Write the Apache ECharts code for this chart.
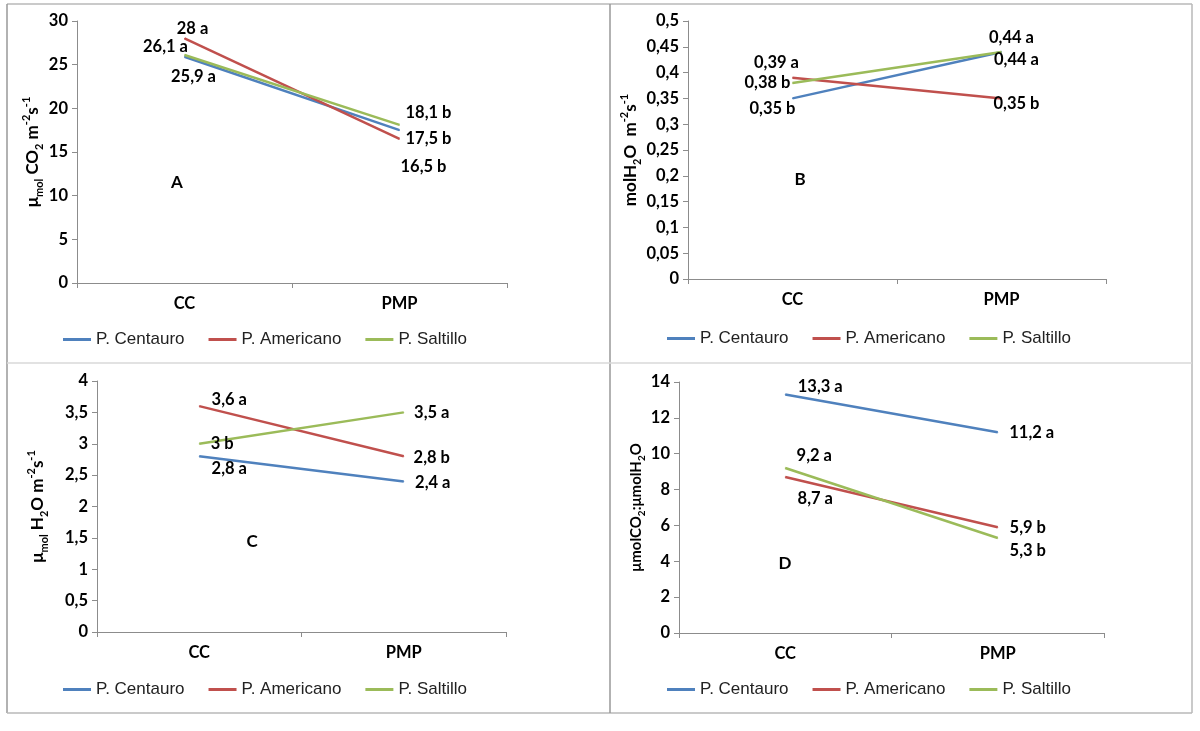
<!DOCTYPE html>
<html>
<head>
<meta charset="utf-8">
<script src="https://cdn.jsdelivr.net/npm/echarts@6/dist/echarts.min.js"></script>
<style>html,body{margin:0;padding:0;background:#fff;}#c{width:1200px;height:731px;}</style>
</head>
<body>
<div id="c"></div>
<script>
// ---- data ----
const categories = ['CC', 'PMP'];
const seriesNames = ['P. Centauro', 'P. Americano', 'P. Saltillo'];
const panelLetters = ['A', 'B', 'C', 'D'];

// Panel A: photosynthesis (µmol CO2 m-2 s-1)
const aCentauro = [25.9, 17.5];
const aAmericano = [28, 16.5];
const aSaltillo = [26.1, 18.1];
const aCentauroSig = ['a', 'b'];
const aAmericanoSig = ['a', 'b'];
const aSaltilloSig = ['a', 'b'];

// Panel B: conductance (mol H2O m-2 s-1)
const bCentauro = [0.35, 0.44];
const bAmericano = [0.39, 0.35];
const bSaltillo = [0.38, 0.44];
const bCentauroSig = ['b', 'a'];
const bAmericanoSig = ['a', 'b'];
const bSaltilloSig = ['b', 'a'];

// Panel C: transpiration (µmol H2O m-2 s-1)
const cCentauro = [2.8, 2.4];
const cAmericano = [3.6, 2.8];
const cSaltillo = [3, 3.5];
const cCentauroSig = ['a', 'a'];
const cAmericanoSig = ['a', 'b'];
const cSaltilloSig = ['b', 'a'];

// Panel D: water use efficiency (µmol CO2 : µmol H2O)
const dCentauro = [13.3, 11.2];
const dAmericano = [8.7, 5.9];
const dSaltillo = [9.2, 5.3];
const dCentauroSig = ['a', 'a'];
const dAmericanoSig = ['a', 'b'];
const dSaltilloSig = ['a', 'b'];

// y-axis scales
const yMin = [0, 0, 0, 0];
const yMax = [30, 0.5, 4, 14];
const yStep = [5, 0.05, 0.5, 2];

// ---- layout / style ----
const colors = ['#4F81BD', '#C0504D', '#9BBB59'];
const grids = [
  {left: 77, top: 21, width: 430, height: 262},
  {left: 688, top: 21, width: 418, height: 258},
  {left: 97, top: 381, width: 409, height: 251},
  {left: 679, top: 382, width: 425, height: 251}
];
const nameGaps = [30, 43, 47, 30];
const yNames = [
  '{m|μ}{s|mol}{m| CO}{s|2}{m| m}{p|-2}{m|s}{p|-1}',
  '{m|molH}{s|2}{m|O  m}{p|-2}{m|s}{p|-1}',
  '{m|μ}{s|mol}{m| H}{s|2}{m|O m}{p|-2}{m|s}{p|-1}',
  '{d|μmolCO}{t|2}{d|:μmolH}{t|2}{d|O}'
];
const legendPos = [[63, 331], [667, 330], [63, 681], [667, 681]];
const letterPos = [[177, 183], [800, 180], [252, 542], [785, 564]];
// label offsets [panel][series][category]
const labelOffsets = [
  [[[9, 20], [29, 9]], [[8, -10], [24, 28]], [[-19, -8], [29, -12]]],
  [[[-20, 10], [15, 8]], [[-16, -15], [15, 5]], [[-25, 0], [10, -14]]],
  [[[30, 12], [29, 1]], [[30, -6], [28, 1]], [[23, 0], [28, 0]]],
  [[[35, -8], [34, 0]], [[30, 22], [30, 0]], [[29, -12], [30, 13]]]
];

const panels = [
  [[aCentauro, aCentauroSig], [aAmericano, aAmericanoSig], [aSaltillo, aSaltilloSig]],
  [[bCentauro, bCentauroSig], [bAmericano, bAmericanoSig], [bSaltillo, bSaltilloSig]],
  [[cCentauro, cCentauroSig], [cAmericano, cAmericanoSig], [cSaltillo, cSaltilloSig]],
  [[dCentauro, dCentauroSig], [dAmericano, dAmericanoSig], [dSaltillo, dSaltilloSig]]
];

const fmt = v => String(parseFloat(Number(v).toFixed(2))).replace('.', ',');
const FONT = 'Lato';
const axisColor = '#8c8c8c';

const xAxis = [], yAxis = [], series = [], legend = [];
grids.forEach((g, p) => {
  xAxis.push({
    type: 'category', gridIndex: p, data: categories, boundaryGap: true,
    axisLine: {lineStyle: {color: axisColor, width: 1}},
    axisTick: {show: true, length: 5, lineStyle: {color: axisColor}},
    axisLabel: {color: '#000', fontFamily: FONT, fontWeight: 'bold', fontSize: 16.5, margin: 12},
    splitLine: {show: false}
  });
  yAxis.push({
    type: 'value', gridIndex: p, min: yMin[p], max: yMax[p], interval: yStep[p],
    axisLine: {show: true, lineStyle: {color: axisColor, width: 1}},
    axisTick: {show: true, length: 5, lineStyle: {color: axisColor}},
    axisLabel: {color: '#000', fontFamily: FONT, fontWeight: 'bold', fontSize: 16.5, margin: 9, formatter: fmt},
    splitLine: {show: false},
    name: yNames[p], nameLocation: 'middle', nameGap: nameGaps[p], nameRotate: 90,
    nameTextStyle: {
      color: '#000',
      rich: {
        m: {fontFamily: FONT, fontWeight: 'bold', fontSize: 17, lineHeight: 24},
        s: {fontFamily: FONT, fontWeight: 'bold', fontSize: 11, lineHeight: 12, verticalAlign: 'bottom'},
        p: {fontFamily: FONT, fontWeight: 'bold', fontSize: 11, lineHeight: 13, verticalAlign: 'top'},
        d: {fontFamily: FONT, fontWeight: 'bold', fontSize: 15, lineHeight: 22},
        t: {fontFamily: FONT, fontWeight: 'bold', fontSize: 10, lineHeight: 11, verticalAlign: 'bottom'}
      }
    }
  });
  panels[p].forEach((pair, s) => {
    const vals = pair[0], sig = pair[1];
    series.push({
      type: 'line', name: seriesNames[s], xAxisIndex: p, yAxisIndex: p,
      symbol: 'circle', symbolSize: 1, showSymbol: true,
      lineStyle: {width: 2.5, color: colors[s]},
      itemStyle: {color: colors[s]},
      label: {
        show: true, position: 'inside', align: 'center', verticalAlign: 'middle',
        color: '#000', fontFamily: FONT, fontWeight: 'bold', fontSize: 16.5,
        formatter: (params) => fmt(params.value) + ' ' + sig[params.dataIndex]
      },
      data: vals.map((v, i) => ({value: v, label: {offset: labelOffsets[p][s][i]}}))
    });
  });
  legend.push({
    left: legendPos[p][0], top: legendPos[p][1], orient: 'horizontal', padding: 0,
    data: seriesNames, icon: 'rect', itemWidth: 28, itemHeight: 3, itemGap: 24,
    textStyle: {fontFamily: 'Liberation Sans', fontSize: 17, color: '#222'},
    selectedMode: false
  });
});

const frameCol = '#b8b8b8';
const lineEl = (x1, y1, x2, y2, c, w) => ({type: 'line', silent: true,
  shape: {x1, y1, x2, y2}, style: {stroke: c, lineWidth: w || 1.5}});
const graphic = [
  lineEl(7, 4, 1192, 4, frameCol),
  lineEl(7, 4, 7, 713, '#999'),
  lineEl(1192, 4, 1192, 713, frameCol),
  lineEl(7, 713, 1192, 713, frameCol),
  lineEl(610, 4, 610, 713, '#999'),
  lineEl(7, 363, 1192, 363, '#d8d8d8')
];
letterPos.forEach((pos, p) => {
  graphic.push({type: 'text', silent: true, x: pos[0], y: pos[1],
    style: {text: panelLetters[p], fill: '#000', font: 'bold 17px ' + FONT, align: 'center', verticalAlign: 'middle'}});
});

const chart = echarts.init(document.getElementById('c'), null, {renderer: 'canvas'});
chart.setOption({
  animation: false,
  backgroundColor: '#fff',
  grid: grids.map(g => Object.assign({containLabel: false}, g)),
  xAxis, yAxis, series, legend, graphic,
  tooltip: {show: false}
});
</script>
</body>
</html>
